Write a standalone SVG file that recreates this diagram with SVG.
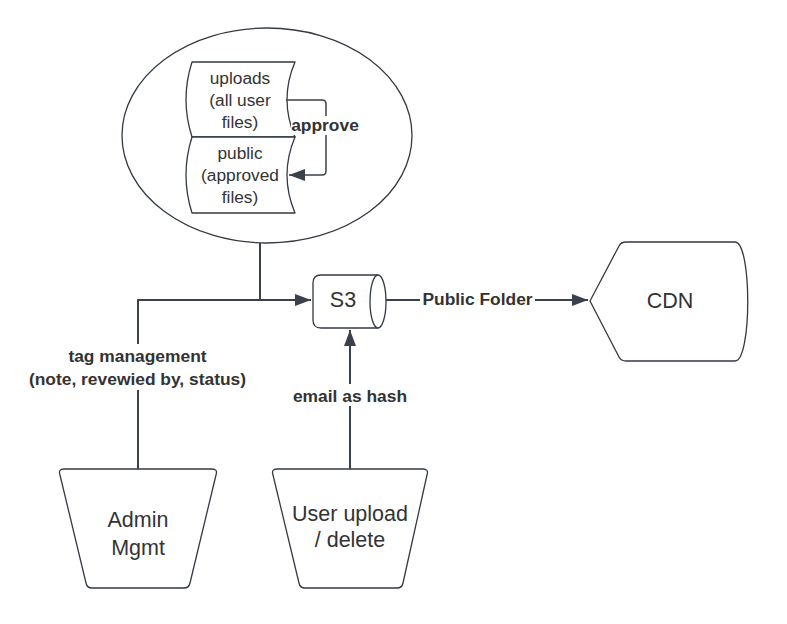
<svg xmlns="http://www.w3.org/2000/svg" width="787" height="624" viewBox="0 0 787 624">
<style>
.shape{fill:#ffffff;stroke:#333a43;stroke-width:1.3;stroke-linejoin:round}
.conn{fill:none;stroke:#3a414a;stroke-width:2;stroke-linejoin:round}
.thin{fill:none;stroke:#3a414a;stroke-width:1.5;stroke-linejoin:round}
.t{font-family:"Liberation Sans",Arial,sans-serif;fill:#333333;text-anchor:middle}
.big{font-size:21.5px}
.mid{font-size:17.3px}
.lbl{font-family:"Liberation Sans",Arial,sans-serif;font-weight:bold;font-size:17.4px;fill:#333333;text-anchor:middle}
</style>
<defs>
<marker id="arr" markerUnits="userSpaceOnUse" markerWidth="18" markerHeight="14" refX="16" refY="6" orient="auto">
<path d="M0,0 L16,6 L0,12 Z" fill="#3a414a"/>
</marker>
</defs>
<rect width="787" height="624" fill="#ffffff"/>

<g id="storage-group">
<ellipse class="shape" cx="267" cy="135.5" rx="145" ry="107.5"/>
</g>

<g id="uploads">
<path class="shape" d="M192,62 L295,62 Q279,99.5 295,137 L192,137 Q180,99.5 192,62 Z"/>
<text class="t mid" x="240" y="84">uploads</text>
<text class="t mid" x="240" y="106">(all user</text>
<text class="t mid" x="240" y="128">files)</text>
</g>

<g id="public">
<path class="shape" d="M192,137 L295,137 Q279,175 295,213 L192,213 Q180,175 192,137 Z"/>
<text class="t mid" x="240" y="159">public</text>
<text class="t mid" x="240" y="181">(approved</text>
<text class="t mid" x="240" y="203">files)</text>
</g>

<g id="s3">
<path class="shape" d="M321,275 L378,275 A8,26.5 0 0 1 378,328 L321,328 Q313,328 313,320 L313,283 Q313,275 321,275 Z"/>
<path class="shape" fill="none" d="M378,275 A8,26.5 0 0 0 378,328"/>
<text class="t big" x="343" y="307">S3</text>
</g>

<g id="cdn">
<path class="shape" d="M590,301 L619,246 Q621,242 626,242 L735,242 C752,242 752,361 735,361 L626,361 Q621,361 619,357 Z"/>
<text class="t big" x="670" y="308">CDN</text>
</g>

<g id="admin">
<path class="shape" d="M64,469 L212,469 Q218,469 216,475 L190,583 Q189,588 184,588 L92,588 Q87,588 86,583 L60,475 Q58,469 64,469 Z"/>
<text class="t big" x="138" y="527">Admin</text>
<text class="t big" x="138" y="554.5">Mgmt</text>
</g>

<g id="user">
<path class="shape" d="M277,469 L423,469 Q429,469 427,475 L403,583 Q402,588 397,588 L305,588 Q300,588 299,583 L273,475 Q271,469 277,469 Z"/>
<text class="t big" x="350" y="521">User upload</text>
<text class="t big" x="350" y="547">/ delete</text>
</g>

<g id="connectors">
<path class="conn" d="M138,469 L138,300 L311,300" marker-end="url(#arr)"/>
<path class="conn" d="M260,243 L260,300"/>
<path class="conn" d="M350,469 L350,330" marker-end="url(#arr)"/>
<path class="conn" d="M386,300 L588,300" marker-end="url(#arr)"/>
<path class="thin" d="M286,100 L322,100 Q326,100 326,104 L326,171 Q326,175 322,175 L289,175" marker-end="url(#arr)"/>
<g id="labels">
<rect x="291" y="116" width="68" height="19" fill="#ffffff"/>
<text class="lbl" x="325" y="131">approve</text>
<rect x="420" y="288" width="115" height="22" fill="#ffffff"/>
<text class="lbl" x="477.5" y="305">Public Folder</text>
<rect x="26" y="344" width="224" height="46" fill="#ffffff"/>
<text class="lbl" x="137.5" y="362">tag management</text>
<text class="lbl" x="137.5" y="385">(note, revewied by, status)</text>
<rect x="290" y="384" width="120" height="22" fill="#ffffff"/>
<text class="lbl" x="350" y="402">email as hash</text>
</g>
</g>
</svg>
